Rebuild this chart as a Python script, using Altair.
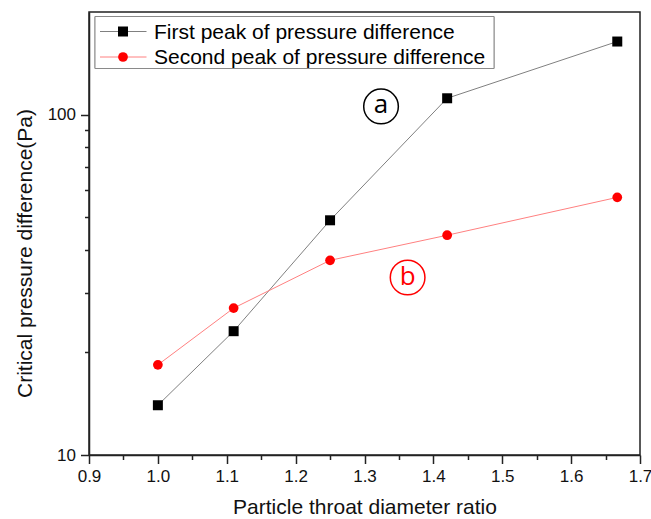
import altair as alt
import pandas as pd

# ---- data ----
ratio = [1.0, 1.11, 1.25, 1.42, 1.667]
first_peak = [14.0, 23.1, 48.9, 111.6, 163.8]
second_peak = [18.4, 27.0, 37.3, 44.2, 57.1]
series_names = ["First peak of pressure difference", "Second peak of pressure difference"]

x_tick_values = [0.9, 0.95, 1.0, 1.05, 1.1, 1.15, 1.2, 1.25, 1.3, 1.35, 1.4,
                 1.45, 1.5, 1.55, 1.6, 1.65, 1.7]
y_tick_values = [10, 20, 30, 40, 50, 60, 70, 80, 90, 100]

annot_labels = ["a", "b"]
annot_x = [1.324, 1.3626]
annot_y = [105.6, 33.2]
annot_colors = ["black", "red"]

# ---- tables ----
df = pd.DataFrame({
    "ratio": ratio * 2,
    "value": first_peak + second_peak,
    "series": [series_names[0]] * len(ratio) + [series_names[1]] * len(ratio),
})
df1 = df[df.series == series_names[0]]
df2 = df[df.series == series_names[1]]
ann = pd.DataFrame({"ratio": annot_x, "value": annot_y, "label": annot_labels, "color": annot_colors})
leg = pd.DataFrame({"series": series_names})

W, H = 551, 443
FONT = "Liberation Sans"

x_enc = alt.X(
    "ratio:Q",
    scale=alt.Scale(domain=[0.9, 1.7], nice=False, zero=False),
    axis=alt.Axis(
        values=x_tick_values,
        format=".1f",
        labelExpr="abs(round(datum.value*10) - datum.value*10) < 0.01 ? datum.label : ''",
        tickSize={"condition": {"test": "abs(round(datum.value*10) - datum.value*10) < 0.01", "value": 8.5}, "value": 4.5},
        labelOverlap=False,
        labelFlush=False,
        labelPadding=5,
        title="Particle throat diameter ratio",
        titleX=W / 2,
        titleY=52,
        titleBaseline="middle",
        titleAlign="center",
        grid=False,
    ),
)
y_enc = alt.Y(
    "value:Q",
    scale=alt.Scale(type="log", domain=[10, 200], nice=False),
    axis=alt.Axis(
        values=y_tick_values,
        format="d",
        labelExpr="(datum.value == 10 || datum.value == 100) ? datum.label : ''",
        tickSize={"condition": {"test": "datum.value == 10 || datum.value == 100", "value": 8.5}, "value": 4.5},
        labelOverlap=False,
        labelFlush=False,
        labelPadding=5,
        title="Critical pressure difference(Pa)",
        titleX=-64,
        titleY=241,
        titleAngle=-90,
        titleBaseline="middle",
        titleAlign="center",
        grid=False,
    ),
)

line1 = alt.Chart(df1).mark_line(color="#808080", strokeWidth=1).encode(x=x_enc, y=y_enc)
line2 = alt.Chart(df2).mark_line(color="#ff8080", strokeWidth=1).encode(x=x_enc, y=y_enc)
pts1 = alt.Chart(df1).mark_point(shape="square", filled=True, size=100, color="black", opacity=1).encode(x=x_enc, y=y_enc)
pts2 = alt.Chart(df2).mark_point(shape="circle", filled=True, size=95, color="red", opacity=1).encode(x=x_enc, y=y_enc)

ann_ring = alt.Chart(ann).mark_point(shape="circle", size=1200, filled=False, strokeWidth=1.5, opacity=1).encode(
    x=x_enc, y=y_enc, color=alt.Color("color:N", scale=None)
)
ann_text = alt.Chart(ann).mark_text(fontSize=26, font="Open Sans", baseline="middle", align="center", dy=-1).encode(
    x=x_enc, y=y_enc, text="label:N", color=alt.Color("color:N", scale=None)
)

# ---- legend (drawn manually, inside the plot, top-left) ----
leg_box = alt.Chart(leg).mark_rect(fill="white", stroke="#8a8a8a", strokeWidth=1).encode(
    x=alt.value(6), x2=alt.value(405), y=alt.value(4.5), y2=alt.value(56.5)
)
row_y = [19.5, 45]
leg_layers = [leg_box]
line_cols = ["#808080", "#ff8080"]
mk_cols = ["black", "red"]
shapes = ["square", "circle"]
sizes = [100, 95]
for i, name in enumerate(series_names):
    d = leg[leg.series == name]
    leg_layers.append(alt.Chart(d).mark_rule(color=line_cols[i], strokeWidth=1).encode(
        x=alt.value(11), x2=alt.value(57.5), y=alt.value(row_y[i])))
    leg_layers.append(alt.Chart(d).mark_point(shape=shapes[i], filled=True, size=sizes[i], color=mk_cols[i], opacity=1).encode(
        x=alt.value(34), y=alt.value(row_y[i])))
    leg_layers.append(alt.Chart(d).mark_text(fontSize=21, font=FONT, align="left", baseline="middle", color="black").encode(
        x=alt.value(65), y=alt.value(row_y[i] + 1), text="series:N"))

chart = alt.layer(line1, line2, pts1, pts2, ann_ring, ann_text, *leg_layers).properties(
    width=W,
    height=H,
    autosize=alt.AutoSizeParams(type="none"),
    padding={"left": 89, "top": 12, "right": 11, "bottom": 64},
    background="white",
).configure_view(
    stroke="#222222", strokeWidth=1.5
).configure_axis(
    domainColor="#222222", domainWidth=1.5,
    tickColor="#222222", tickWidth=1.5,
    labelFont=FONT, labelFontSize=17, labelColor="#111111",
    titleFont=FONT, titleFontSize=21, titleFontWeight="normal", titleColor="#111111",
)

chart.save("out.html", embed_options={"renderer": "svg", "actions": False})
